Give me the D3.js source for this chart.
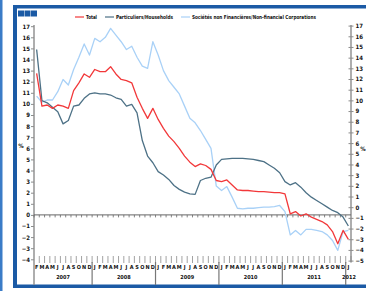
<!DOCTYPE html>
<html>
<head>
<meta charset="utf-8">
<script src="https://d3js.org/d3.v7.min.js"></script>
<style>
body { margin: 0; background: #fff; }
svg { display: block; }
text { font-family: 'Liberation Sans Narrow', 'DejaVu Sans Condensed', 'Liberation Sans', sans-serif; font-weight: bold; fill: #111; }
</style>
</head>
<body>
<svg width="366" height="291"></svg>
<script>
// monthly series, Feb 2007 .. Jan 2012 (%)
var total = [12.75, 9.8, 9.9, 9.6, 9.9, 9.8, 9.6, 11.2, 11.9, 12.7,
  12.4, 13.1, 12.9, 12.9, 13.35, 12.7, 12.2, 12.1, 11.9, 10.6,
  9.6, 8.7, 9.6, 8.6, 7.8, 7.1, 6.6, 6.0, 5.3, 4.75,
  4.35, 4.6, 4.45, 4.1, 3.1, 3.0, 3.15, 2.7, 2.25, 2.2,
  2.2, 2.15, 2.1, 2.1, 2.05, 2.0, 2.0, 1.9, 0.1, 0.3,
  -0.1, 0.1, -0.2, -0.4, -0.6, -0.9, -1.5, -2.6, -1.4, -2.2];
var households = [14.9, 10.3, 10.1, 9.7, 9.3, 8.2, 8.5, 9.8, 9.9, 10.5,
  10.9, 11.0, 10.9, 10.9, 10.8, 10.55, 10.4, 9.8, 9.95, 9.2,
  6.7, 5.3, 4.7, 3.9, 3.6, 3.2, 2.65, 2.3, 2.05, 1.9,
  1.85, 3.1, 3.3, 3.4, 4.5, 5.0, 5.05, 5.1, 5.1, 5.1,
  5.05, 5.0, 4.9, 4.8, 4.5, 4.2, 3.8, 3.0, 2.7, 2.9,
  2.5, 2.0, 1.6, 1.3, 1.0, 0.7, 0.4, 0.2, -0.2, -1.0];
var nfc = [10.7, 10.15, 10.35, 10.35, 11.1, 12.2, 11.7, 13.1, 14.2, 15.4,
  14.4, 15.9, 15.6, 16.0, 16.8, 16.2, 15.6, 14.9, 15.2, 14.2,
  13.4, 13.2, 15.6, 14.4, 13.0, 12.1, 11.5, 10.9, 9.8, 8.7,
  8.3, 7.6, 6.8, 6.0, 2.6, 2.2, 2.55, 1.6, 0.6, 0.55,
  0.6, 0.6, 0.65, 0.7, 0.7, 0.75, 0.85, 0.3, -1.8, -1.4,
  -1.8, -1.3, -1.3, -1.4, -1.5, -1.8, -2.3, -3.2, -1.5, -1.4];

var monthLetters = ["J", "F", "M", "A", "M", "J", "J", "A", "S", "O", "N", "D"];
var years = [2007, 2008, 2009, 2010, 2011, 2012];
var leftTicks = d3.range(-4, 18);
var rightTicks = d3.range(-5, 18);
var seriesNames = ["Total", "Particuliers/Households", "Sociétés non Financières/Non-financial Corporations"];
var colors = ["#f2383a", "#4d7186", "#a9d1f7"];

var months = d3.timeMonth.range(new Date(2007, 1, 1), new Date(2012, 1, 1));

var svg = d3.select("svg");
var frame = "#1b5aa5";

// frame pieces
svg.append("rect").attr("x", 0).attr("y", 0).attr("width", 2.5).attr("height", 291).attr("fill", "#3b7cc7");
svg.append("rect").attr("x", 13).attr("y", 5).attr("width", 4).attr("height", 283).attr("fill", frame);
svg.append("rect").attr("x", 13).attr("y", 5).attr("width", 353).attr("height", 3.5).attr("fill", frame);
svg.append("rect").attr("x", 13).attr("y", 284.5).attr("width", 353).attr("height", 3.5).attr("fill", frame);
[0, 1, 2].forEach(function (k) {
  svg.append("rect").attr("x", 18 + k * 6.5).attr("y", 10.5).attr("width", 6).attr("height", 6).attr("fill", frame);
});

var x = d3.scaleBand().domain(months).range([34, 351]).padding(0);
var yL = d3.scaleLinear().domain([-4, 17]).range([259.3, 26.2]);
var yR = d3.scaleLinear().domain([-5, 17]).range([260.6, 25.6]);
var grey = "#8c8c8c";

// left axis
svg.append("g").attr("transform", "translate(34,0)")
  .call(d3.axisLeft(yL).tickValues(leftTicks).tickSize(3).tickPadding(1))
  .call(function (g) {
    g.select(".domain").remove();
    g.selectAll("line").attr("stroke", grey);
    g.selectAll("text").attr("font-size", 6).attr("fill", "#111");
  });
svg.append("line").attr("x1", 34).attr("x2", 34).attr("y1", 25).attr("y2", 285)
  .attr("stroke", grey).attr("stroke-width", 1.4);

// right axis
svg.append("g").attr("transform", "translate(351,0)")
  .call(d3.axisRight(yR).tickValues(rightTicks).tickSize(2.5).tickPadding(2))
  .call(function (g) {
    g.select(".domain").remove();
    g.selectAll("line").attr("x1", -2.5).attr("stroke", grey);
    g.selectAll("text").attr("font-size", 6).attr("fill", "#111");
  });
svg.append("line").attr("x1", 351).attr("x2", 351).attr("y1", 25).attr("y2", 262)
  .attr("stroke", grey).attr("stroke-width", 1.4);

// zero line with month ticks
svg.append("line").attr("x1", 34).attr("x2", 351).attr("y1", yL(0)).attr("y2", yL(0))
  .attr("stroke", "#666").attr("stroke-width", 1);
svg.append("g").selectAll("line").data(months).join("line")
  .attr("x1", function (d) { return x(d); }).attr("x2", function (d) { return x(d); })
  .attr("y1", yL(0)).attr("y2", yL(0) + 2.5)
  .attr("stroke", "#666").attr("stroke-width", 0.8);

// bottom month ticks and letters
svg.append("g").selectAll("line").data(months).join("line")
  .attr("x1", function (d) { return x(d) + x.bandwidth(); }).attr("x2", function (d) { return x(d) + x.bandwidth(); })
  .attr("y1", 256).attr("y2", 263)
  .attr("stroke", grey).attr("stroke-width", 0.8);
svg.append("g").selectAll("text").data(months).join("text")
  .attr("x", function (d) { return x(d) + x.bandwidth() / 2; })
  .attr("y", 268.5)
  .attr("text-anchor", "middle").attr("font-size", 5.5)
  .text(function (d) { return monthLetters[d.getMonth()]; });

// year separators and labels
years.forEach(function (yr) {
  var inYear = months.filter(function (d) { return d.getFullYear() === yr; });
  var x0 = x(inYear[0]), x1 = x(inYear[inYear.length - 1]) + x.bandwidth();
  if (yr !== 2007) {
    svg.append("line").attr("x1", x0).attr("x2", x0).attr("y1", 262).attr("y2", 285)
      .attr("stroke", "#777").attr("stroke-width", 1.2);
  }
  svg.append("text").attr("x", yr === 2012 ? 349 : (x0 + x1) / 2).attr("y", 279)
    .attr("text-anchor", "middle").attr("font-size", 5.5).text(yr);
});

// % labels
svg.append("text").attr("x", 21).attr("y", 148).attr("text-anchor", "middle").attr("font-size", 6).text("%");
svg.append("text").attr("x", 363).attr("y", 151).attr("text-anchor", "middle").attr("font-size", 6).text("%");

// series lines
var line = d3.line()
  .x(function (d, i) { return x(months[i]) + x.bandwidth() / 2; })
  .y(function (d) { return yL(d); });
[nfc, households, total].forEach(function (s, k) {
  svg.append("path").attr("d", line(s)).attr("fill", "none")
    .attr("stroke", colors[2 - k]).attr("stroke-width", 1.3).attr("stroke-linejoin", "round");
});

// legend
var legX = [75, 105, 181];
var legW = [11, 57, 124];
seriesNames.forEach(function (name, k) {
  svg.append("line").attr("x1", legX[k]).attr("x2", legX[k] + 9).attr("y1", 17).attr("y2", 17)
    .attr("stroke", colors[k]).attr("stroke-width", 1.2);
  svg.append("text").attr("x", legX[k] + 11).attr("y", 19).attr("font-size", 5.5)
    .attr("textLength", legW[k]).attr("lengthAdjust", "spacingAndGlyphs").text(name);
});
</script>
</body>
</html>
